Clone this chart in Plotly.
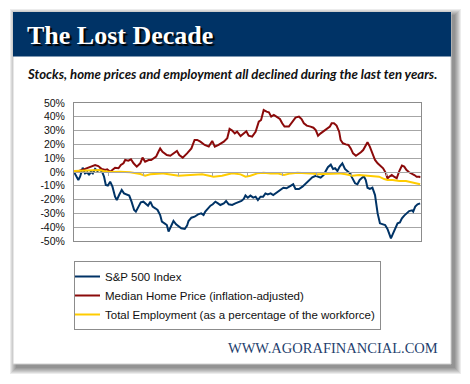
import plotly.graph_objects as go

# ---------------- data (percent change, month index 0..120) ----------------
sp_month = [0, 1.5, 2.1, 3.0, 3.8, 4.6, 5.2, 5.8, 6.5, 7.3, 8.1, 9.0, 9.8, 10.4, 11.0, 11.7,
            12.5, 13.3, 14.2, 14.8, 15.6, 16.5, 17.3, 18.3, 19.1, 19.9, 20.8, 21.4, 22.3, 23.1,
            24.0, 24.9, 25.6, 26.4, 27.2, 28.1, 28.9, 29.8, 30.4, 31.3, 32.1, 32.7, 33.6, 34.4,
            35.3, 36.2, 37.1, 38.3, 39.1, 39.6, 40.6, 41.7, 42.9, 44.0, 44.8, 45.4, 46.4, 47.2,
            48.0, 48.9, 49.8, 50.6, 51.8, 52.6, 53.5, 54.7, 55.8, 57.0, 57.9, 58.7, 59.3, 60.1,
            61.0, 62.0, 62.8, 63.6, 64.5, 65.4, 66.2, 67.0, 68.0, 68.9, 69.7, 70.5, 71.4, 72.4,
            73.5, 74.3, 75.2, 75.8, 76.6, 77.8, 79.0, 80.1, 81.3, 82.4, 83.6, 84.4, 85.3, 86.3,
            87.0, 87.8, 88.8, 89.6, 90.3, 91.1, 91.9, 92.8, 93.7, 94.6, 95.4, 96.3, 97.2, 98.0,
            98.8, 99.8, 100.3, 100.9, 101.5, 102.3, 103.2, 104.1, 105.0, 105.8, 106.7, 107.6,
            108.4, 109.2, 109.6, 110.2, 110.7, 111.3, 111.9, 112.7, 113.4, 114.2, 115.0, 115.9,
            116.9, 117.3, 118.0, 118.8, 119.7]
sp_value = [0.0, -5.8, -3.4, 3.1, -1.0, -0.2, -2.2, 0.2, -1.0, 2.2, 0.7, 1.9, -0.2, -3.4, -9.4, -9.9,
            -7.0, -10.6, -17.9, -20.3, -16.7, -13.0, -15.5, -16.7, -17.1, -21.5, -27.5, -28.7, -25.1, -22.0,
            -21.5, -23.4, -24.4, -21.5, -25.1, -26.3, -27.5, -31.2, -36.0, -37.2, -38.4, -43.2, -39.6, -35.5,
            -37.9, -39.6, -40.8, -41.3, -38.9, -35.5, -33.1, -32.4, -30.7, -30.0, -31.2, -28.7, -26.3, -24.4,
            -23.4, -21.5, -22.7, -23.9, -22.7, -21.0, -23.4, -23.9, -22.7, -22.0, -21.0, -19.5, -17.0, -18.6,
            -17.1, -18.6, -17.9, -20.3, -17.9, -17.9, -15.5, -16.2, -15.5, -16.7, -15.5, -13.8, -13.0, -11.4,
            -11.8, -10.6, -9.9, -8.9, -12.3, -12.3, -10.6, -8.2, -5.8, -3.9, -2.7, -3.4, -4.1, -2.2,
            0.5, 3.5, 5.3, 2.2, 2.7, 0.7, 3.9, 6.3, 2.2, 0.2, -1.0, -4.6, -8.2, -8.9,
            -5.8, -3.9, -3.4, -5.8, -11.4, -12.3, -11.4, -16.7, -30.0, -37.2, -37.9, -38.4,
            -41.3, -45.7, -48.1, -45.2, -42.8, -39.6, -37.2, -36.5, -33.6, -31.6, -30.0, -28.3,
            -27.8, -28.7, -25.1, -23.4, -22.7]

home_month = [0, 0.9, 2.7, 4.4, 6.1, 7.3, 8.4, 9.6, 10.8, 11.5, 12.5, 13.4, 14.2, 15.4, 16.2, 17.1,
              17.7, 18.8, 19.7, 20.6, 21.7, 22.9, 23.7, 24.6, 25.8, 26.7, 27.5, 28.4, 29.2, 29.8,
              30.6, 32.1, 33.3, 34.4, 35.6, 36.4, 37.6, 39.1, 40.6, 41.7, 42.6, 43.7, 45.2, 46.6,
              47.8, 48.7, 50.0, 51.8, 53.0, 53.8, 54.7, 55.6, 56.4, 57.6, 58.7, 59.6, 60.4, 61.6,
              62.8, 63.9, 64.7, 65.6, 66.6, 67.4, 68.2, 69.1, 70.0, 71.2, 72.0, 72.8, 74.3, 75.5,
              76.6, 77.8, 78.7, 79.5, 80.5, 81.8, 82.8, 83.6, 84.4, 85.3, 86.5, 87.6, 88.5, 89.1,
              89.9, 90.8, 91.7, 92.2, 93.0, 94.0, 94.9, 95.7, 96.5, 97.5, 98.4, 99.2, 100.0, 100.9,
              101.5, 102.3, 103.2, 104.1, 105.0, 106.1, 106.9, 107.9, 108.4, 109.0, 109.9, 110.7,
              111.6, 112.5, 113.4, 114.2, 115.0, 115.9, 116.9, 117.7, 118.5, 119.4, 119.7]
home_value = [0.7, 0.2, 1.4, 2.7, 3.9, 5.1, 4.3, 2.2, 1.4, 1.9, 0.2, 1.4, 3.1, 2.7, 5.1, 6.3,
              8.7, 8.2, 9.2, 6.3, 3.9, 6.3, 10.4, 7.5, 8.7, 8.7, 9.9, 11.1, 14.7, 17.1,
              14.7, 12.3, 11.8, 13.5, 15.2, 12.3, 10.4, 13.5, 17.1, 23.2, 23.2, 22.0, 19.6, 18.4,
              22.5, 18.4, 19.6, 22.0, 24.4, 31.2, 30.0, 28.0, 29.2, 26.0, 28.0, 29.5, 26.3, 25.6,
              29.2, 36.5, 37.7, 44.9, 43.7, 43.2, 40.1, 41.3, 40.1, 38.4, 35.3, 32.9, 32.9, 36.5,
              39.4, 40.1, 38.4, 35.3, 33.6, 32.9, 32.1, 30.4, 26.3, 28.0, 29.7, 31.2, 33.0, 35.3,
              35.3, 33.6, 29.2, 23.2, 20.8, 20.0, 19.6, 17.1, 13.5, 11.8, 12.8, 14.3, 15.9, 19.1,
              21.5, 18.4, 13.5, 8.7, 6.3, 3.9, 2.7, -1.0, -4.6, -3.4, -2.2, -3.4,
              -4.6, 0.7, 4.6, 3.9, 1.4, -0.2, -1.0, -2.2, -3.4, -3.4, -4.1]

emp_month = [0, 5.5, 9.0, 10.1, 12.5, 16.0, 19.4, 22.9, 24.6, 26.4, 30.4, 36.2, 39.6, 44.3,
             48.3, 51.2, 54.7, 57.6, 59.3, 61.0, 63.4, 65.6, 68.0, 70.3, 72.6, 74.9, 77.3, 79.5,
             81.8, 84.2, 86.5, 88.8, 91.7, 94.0, 96.3, 98.6, 100.9, 103.2, 105.5, 107.3, 108.4,
             110.2, 112.5, 114.8, 116.5, 118.3, 119.7]
emp_value = [0.7, 1.5, 1.5, 0.7, 0.0, 0.2, -0.2, -1.5, -2.7, -1.7, -1.0, -2.7, -2.2, -1.7,
             -3.4, -2.7, -1.0, -1.7, -3.4, -2.7, -1.0, -0.5, -1.0, -1.0, -2.2, -1.0, -0.5, -0.5,
             -1.0, -1.7, -1.4, -1.0, -1.0, -1.7, -2.7, -2.2, -2.7, -3.4, -3.4, -5.1, -5.8,
             -5.8, -6.5, -6.5, -7.5, -8.2, -8.9]

series_names = ["S&P 500 Index",
                "Median Home Price (inflation-adjusted)",
                "Total Employment (as a percentage of the workforce)"]
y_tick_values = [50, 40, 30, 20, 10, 0, -10, -20, -30, -40, -50]
y_tick_labels = ["50%", "40%", "30%", "20%", "10%", "0%", "-10%", "-20%", "-30%", "-40%", "-50%"]
year_ticks = [12, 24, 36, 48, 60, 72, 84, 96, 108]

title_text = "The Lost Decade"
subtitle_text = "Stocks, home prices and employment all declined during the last ten years."
footer_text = "WWW.AGORAFINANCIAL.COM"

# ---------------- layout geometry (pixels) ----------------
W, H = 470, 384
ML, MR, MT, MB = 74, 49, 103, 143
PW, PH = W - ML - MR, H - MT - MB


def px(x):
    return (x - ML) / PW


def py(y):
    return (H - MB - y) / PH


NAVY = "#003366"
RED = "#8b0a0a"
GOLD = "#ffcc00"

fig = go.Figure()
fig.add_trace(go.Scatter(x=sp_month, y=sp_value, name=series_names[0], mode="lines",
                         line=dict(color=NAVY, width=2), hoverinfo="skip"))
fig.add_trace(go.Scatter(x=home_month, y=home_value, name=series_names[1], mode="lines",
                         line=dict(color=RED, width=2), hoverinfo="skip"))
fig.add_trace(go.Scatter(x=emp_month, y=emp_value, name=series_names[2], mode="lines",
                         line=dict(color=GOLD, width=2), hoverinfo="skip", xaxis="x2"))

shapes = []
# soft drop shadow behind the card
for e in range(7):
    shapes.append(dict(type="rect", xref="paper", yref="paper", layer="below",
                       x0=px(16 - e), x1=px(455 + e), y0=py(368 + e), y1=py(15 - e),
                       fillcolor="rgba(0,0,0,0.075)", line=dict(width=0)))
# card
shapes.append(dict(type="rect", xref="paper", yref="paper", layer="below",
                   x0=px(13), x1=px(451), y0=py(364), y1=py(12),
                   fillcolor="white", line=dict(color="#d0d0d0", width=1)))
# header band
shapes.append(dict(type="rect", xref="paper", yref="paper", layer="below",
                   x0=px(13), x1=px(451), y0=py(56.5), y1=py(12),
                   fillcolor=NAVY, line=dict(width=0)))

annotations = [
    dict(text=title_text, xref="paper", yref="paper", x=px(25), y=py(35),
         xanchor="left", yanchor="middle", showarrow=False,
         font=dict(family="Liberation Serif", size=26, color="white", weight="bold",
                   shadow="2px 2px 1px #000000")),
    dict(text=subtitle_text, xref="paper", yref="paper", x=px(25), y=py(74),
         xanchor="left", yanchor="middle", showarrow=False,
         font=dict(family="Lato", size=13.2, color="#111111", weight="bold", style="italic")),
    dict(text=footer_text, xref="paper", yref="paper", x=px(440), y=py(348),
         xanchor="right", yanchor="middle", showarrow=False,
         font=dict(family="Liberation Serif", size=14.5, color="#1f3f6e")),
]

fig.update_layout(
    width=W, height=H,
    margin=dict(l=ML, r=MR, t=MT, b=MB, pad=0),
    paper_bgcolor="white",
    plot_bgcolor="rgba(0,0,0,0)",
    showlegend=True,
    shapes=shapes,
    annotations=annotations,
    xaxis=dict(range=[0, 120], showgrid=False, zeroline=False, showticklabels=False,
               ticks="", showline=True, mirror=True, linecolor="#8c8c8c", linewidth=1,
               fixedrange=True),
    xaxis2=dict(range=[0, 120], overlaying="x", anchor="free", position=0.5, side="bottom",
                showgrid=False, zeroline=False, showticklabels=False,
                showline=True, linecolor="#a6a6a6", linewidth=1,
                ticks="outside", ticklen=3, tickcolor="#a6a6a6",
                tickvals=year_ticks, fixedrange=True),
    yaxis=dict(range=[-50, 50], tickvals=y_tick_values, ticktext=y_tick_labels,
               showgrid=True, gridcolor="#a6a6a6", gridwidth=1, zeroline=False,
               showline=True, mirror=True, linecolor="#8c8c8c", linewidth=1,
               ticks="", ticklabelstandoff=6,
               tickfont=dict(family="Liberation Sans", size=10.5, color="#111111"),
               fixedrange=True),
    legend=dict(x=0, y=py(261), xanchor="left", yanchor="top",
                bgcolor="white", bordercolor="#8c8c8c", borderwidth=1,
                font=dict(family="Liberation Sans", size=11.5, color="#111111"),
                itemwidth=30, tracegroupgap=0, indentation=-10),
)

fig.write_html("out.html", config={"displayModeBar": False},
               post_script="document.body.style.margin='0';document.body.style.overflow='hidden';")
